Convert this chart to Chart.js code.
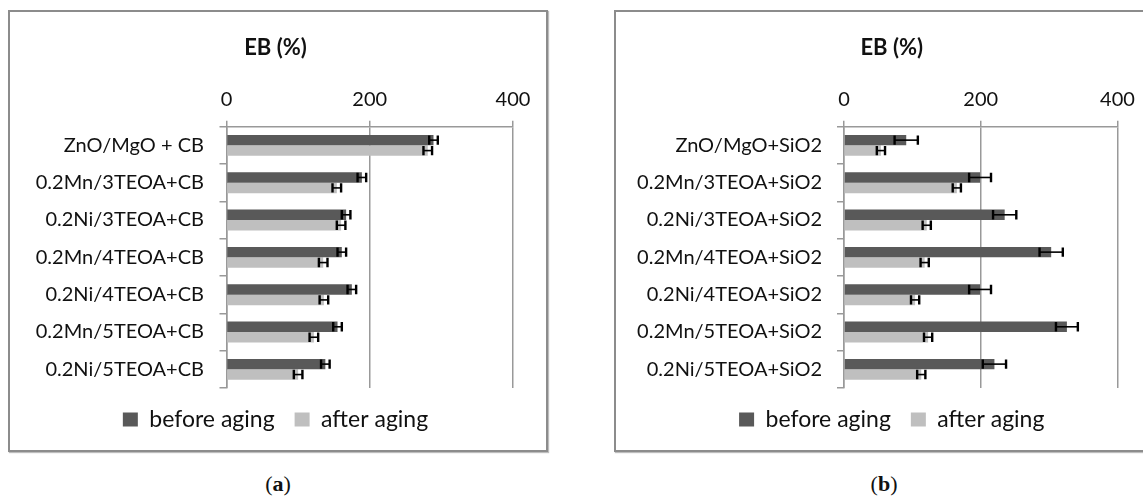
<!DOCTYPE html>
<html>
<head>
<meta charset="utf-8">
<script src="https://cdn.jsdelivr.net/npm/chart.js@4.4.1/dist/chart.umd.min.js"></script>
<style>
html,body{margin:0;padding:0;width:1143px;height:502px;overflow:hidden;background:#fff;}
.frame{position:absolute;box-sizing:border-box;border:2px solid #8c8c8c;box-shadow:1px 1px 1px #bdbdbd;background:#fff;overflow:hidden;}
#fa{left:8px;top:10px;width:540px;height:442px;}
#fb{left:614px;top:10px;width:542px;height:442px;}
canvas{position:absolute;left:0;top:0;}
.cap{position:absolute;top:471px;font-family:"Liberation Serif","DejaVu Serif",serif;font-size:22px;color:#111;transform:translateX(-50%);}
.cap b{font-weight:bold;}
</style>
</head>
<body>
<div class="frame" id="fa"><canvas id="ca" width="536" height="438"></canvas></div>
<div class="frame" id="fb"><canvas id="cb" width="538" height="438"></canvas></div>
<div class="cap" style="left:278px">(<b>a</b>)</div>
<div class="cap" style="left:884px">(<b>b</b>)</div>
<script>
// ---- data ----
const categoriesA = ['ZnO/MgO + CB','0.2Mn/3TEOA+CB','0.2Ni/3TEOA+CB','0.2Mn/4TEOA+CB','0.2Ni/4TEOA+CB','0.2Mn/5TEOA+CB','0.2Ni/5TEOA+CB'];
const beforeA = [289,189,167,161,175,155,138];
const afterA = [281,154,160,135,136,122,100];
const errBeforeA = [6,6,6,6,6,6,6];
const errAfterA = [6,6,6,6,6,6,6];

const categoriesB = ['ZnO/MgO+SiO2','0.2Mn/3TEOA+SiO2','0.2Ni/3TEOA+SiO2','0.2Mn/4TEOA+SiO2','0.2Ni/4TEOA+SiO2','0.2Mn/5TEOA+SiO2','0.2Ni/5TEOA+SiO2'];
const beforeB = [91,199,235,303,199,326,220];
const afterB = [54,165,121,118,104,123,113];
const errBeforeB = [17,16,17,17,16,16,17];
const errAfterB = [6,6,6,6,6,6,6];

const xTicks = [0,200,400];
const seriesNames = ['before aging','after aging'];
const title = 'EB (%)';

// ---- styles ----
const DARK = '#595959', LIGHT = '#bfbfbf', GRID = '#999999';
const FONT = 'Lato, "Open Sans", sans-serif';

const errorBars = {
  id: 'errorBars',
  afterDatasetsDraw(chart) {
    const ctx = chart.ctx, xs = chart.scales.x;
    chart.data.datasets.forEach((ds, i) => {
      const meta = chart.getDatasetMeta(i);
      meta.data.forEach((bar, j) => {
        const v = ds.data[j], e = ds.errors[j];
        const x0 = xs.getPixelForValue(v - e), x1 = xs.getPixelForValue(v + e);
        const y = bar.y, hh = bar.height * 0.45;
        ctx.save();
        ctx.strokeStyle = '#000';
        ctx.lineWidth = 1.6;
        ctx.beginPath(); ctx.moveTo(x0, y); ctx.lineTo(x1, y); ctx.stroke();
        ctx.lineWidth = 2.4;
        ctx.beginPath();
        ctx.moveTo(x0, y - hh); ctx.lineTo(x0, y + hh);
        ctx.moveTo(x1, y - hh); ctx.lineTo(x1, y + hh);
        ctx.stroke();
        ctx.restore();
      });
    });
  }
};

// let the category labels use the whole left margin (no clipping at the axis box edge)
const widenLabelArea = {
  id: 'widenLabelArea',
  afterLayout(chart) { chart.scales.y.left = 0; }
};

function makeChart(id, cats, before, after, eb, ea, padL, padR, yWidth, yPad) {
  return new Chart(document.getElementById(id), {
    type: 'bar',
    data: {
      labels: cats,
      datasets: [
        {label: seriesNames[0], data: before, errors: eb, backgroundColor: DARK, borderWidth: 0},
        {label: seriesNames[1], data: after, errors: ea, backgroundColor: LIGHT, borderWidth: 0}
      ]
    },
    options: {
      indexAxis: 'y',
      responsive: false,
      animation: false,
      devicePixelRatio: 1,
      categoryPercentage: 0.56,
      barPercentage: 1.0,
      layout: {padding: {left: padL, right: padR, top: 0, bottom: 9}},
      scales: {
        x: {
          position: 'top',
          min: 0, max: 400,
          afterBuildTicks: s => { s.ticks = xTicks.map(v => ({value: v})); },
          afterFit: s => { s.height = 56.3; },
          grid: {color: GRID, lineWidth: 1.5, tickLength: 6, drawTicks: true},
          border: {display: true, color: GRID, width: 1.5},
          ticks: {font: {family: FONT, size: 20}, color: '#111', padding: 9}
        },
        y: {
          afterFit: s => { s.width = yWidth; },
          grid: {offset: true, drawOnChartArea: false, color: GRID, lineWidth: 1.5, tickLength: 7},
          border: {display: true, color: GRID, width: 1.5},
          ticks: {font: {family: FONT, size: 20}, color: '#111', padding: yPad}
        }
      },
      plugins: {
        title: {display: true, text: title, font: {family: FONT, size: 22, weight: 'bold'}, color: '#111', padding: {top: 23, bottom: 9}},
        legend: {
          position: 'bottom',
          labels: {font: {family: FONT, size: 23}, color: '#111', boxWidth: 15, boxHeight: 14, padding: 20}
        },
        tooltip: {enabled: false}
      }
    },
    plugins: [errorBars, widenLabelArea]
  });
}

makeChart('ca', categoriesA, beforeA, afterA, errBeforeA, errAfterA, 28, 33, 216.5 - 28, 15.5);
makeChart('cb', categoriesB, beforeB, afterB, errBeforeB, errAfterB, 50, 36.5, 228 - 50, 15);
</script>
</body>
</html>
